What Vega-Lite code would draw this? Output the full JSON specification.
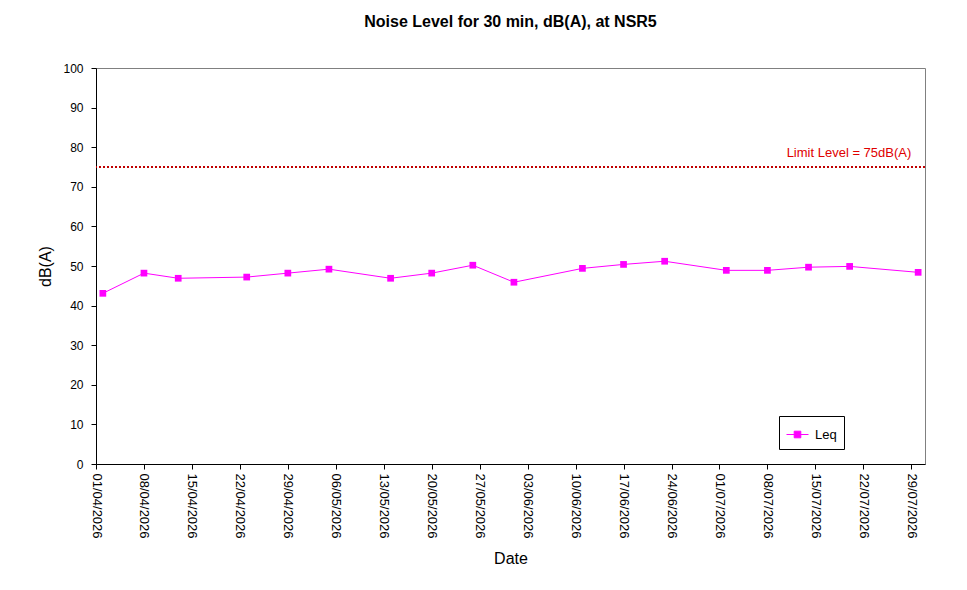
{
  "$schema": "https://vega.github.io/schema/vega-lite/v6.json",
  "width": 829,
  "height": 396,
  "autosize": {"type": "none"},
  "padding": {"left": 96, "top": 68, "right": 42, "bottom": 126},
  "background": "white",
  "config": {
    "font": "Liberation Sans",
    "view": {"stroke": "#808080", "strokeWidth": 1},
    "axisY": {"tickCount": 10, "values": [0, 10, 20, 30, 40, 50, 60, 70, 80, 90, 100]}
  },
  "title": {
    "text": "Noise Level for 30 min,  dB(A), at NSR5",
    "fontSize": 16,
    "fontWeight": "bold",
    "font": "Liberation Sans",
    "color": "black",
    "anchor": "middle",
    "offset": 32
  },
  "datasets": {
    "leq": [
      {"date": "2026-04-02", "level": 43.1, "series": "Leq"},
      {"date": "2026-04-08", "level": 48.2, "series": "Leq"},
      {"date": "2026-04-13", "level": 46.9, "series": "Leq"},
      {"date": "2026-04-23", "level": 47.2, "series": "Leq"},
      {"date": "2026-04-29", "level": 48.2, "series": "Leq"},
      {"date": "2026-05-05", "level": 49.2, "series": "Leq"},
      {"date": "2026-05-14", "level": 46.9, "series": "Leq"},
      {"date": "2026-05-20", "level": 48.2, "series": "Leq"},
      {"date": "2026-05-26", "level": 50.2, "series": "Leq"},
      {"date": "2026-06-01", "level": 45.9, "series": "Leq"},
      {"date": "2026-06-11", "level": 49.4, "series": "Leq"},
      {"date": "2026-06-17", "level": 50.4, "series": "Leq"},
      {"date": "2026-06-23", "level": 51.2, "series": "Leq"},
      {"date": "2026-07-02", "level": 48.9, "series": "Leq"},
      {"date": "2026-07-08", "level": 48.9, "series": "Leq"},
      {"date": "2026-07-14", "level": 49.7, "series": "Leq"},
      {"date": "2026-07-20", "level": 49.9, "series": "Leq"},
      {"date": "2026-07-30", "level": 48.4, "series": "Leq"}
    ],
    "limit": [
      {"level": 75, "date": "2026-07-29", "label": "Limit Level  = 75dB(A)"}
    ]
  },
  "encoding": {
    "y": {
      "field": "level",
      "type": "quantitative",
      "scale": {"domain": [0, 100], "nice": false},
      "axis": {
        "title": "dB(A)",
        "titleFontSize": 16,
        "titleFontWeight": "normal",
        "titleColor": "black",
        "titlePadding": 9,
        "tickCount": 10,
        "labelOverlap": false,
        "labelPadding": 8,
        "labelFontSize": 12,
        "labelColor": "black",
        "grid": false,
        "domainColor": "black",
        "tickColor": "black",
        "tickSize": 5
      }
    }
  },
  "layer": [
    {
      "data": {"name": "limit"},
      "mark": {"type": "rule", "color": "#C00000", "strokeWidth": 2, "strokeDash": [2, 2]},
      "encoding": {}
    },
    {
      "data": {"name": "limit"},
      "mark": {"type": "text", "color": "#E00000", "fontSize": 13, "align": "right", "baseline": "middle", "dy": -14, "font": "Liberation Sans"},
      "encoding": {
        "x": {"field": "date", "type": "temporal"},
        "text": {"field": "label"}
      }
    },
    {
      "data": {"name": "leq"},
      "mark": {"type": "line", "strokeWidth": 1, "point": {"shape": "square", "size": 45, "filled": true, "opacity": 1}},
      "encoding": {
        "x": {
          "field": "date",
          "type": "temporal",
          "scale": {
            "type": "utc",
            "domain": [
              {"year": 2026, "month": 4, "date": 1, "utc": true},
              {"year": 2026, "month": 7, "date": 31, "utc": true}
            ]
          },
          "axis": {
            "title": "Date",
            "titleFontSize": 16,
            "titleFontWeight": "normal",
            "titleColor": "black",
            "titlePadding": 12,
            "format": "%d/%m/%Y",
            "labelAngle": 90,
            "labelAlign": "left",
            "labelBaseline": "middle",
            "labelFontSize": 13,
            "labelColor": "black",
            "labelPadding": 4,
            "labelOverlap": false,
            "labelFlush": false,
            "grid": false,
            "domainColor": "black",
            "tickColor": "black",
            "tickSize": 5,
            "values": [
              {"year": 2026, "month": 4, "date": 1, "utc": true},
              {"year": 2026, "month": 4, "date": 8, "utc": true},
              {"year": 2026, "month": 4, "date": 15, "utc": true},
              {"year": 2026, "month": 4, "date": 22, "utc": true},
              {"year": 2026, "month": 4, "date": 29, "utc": true},
              {"year": 2026, "month": 5, "date": 6, "utc": true},
              {"year": 2026, "month": 5, "date": 13, "utc": true},
              {"year": 2026, "month": 5, "date": 20, "utc": true},
              {"year": 2026, "month": 5, "date": 27, "utc": true},
              {"year": 2026, "month": 6, "date": 3, "utc": true},
              {"year": 2026, "month": 6, "date": 10, "utc": true},
              {"year": 2026, "month": 6, "date": 17, "utc": true},
              {"year": 2026, "month": 6, "date": 24, "utc": true},
              {"year": 2026, "month": 7, "date": 1, "utc": true},
              {"year": 2026, "month": 7, "date": 8, "utc": true},
              {"year": 2026, "month": 7, "date": 15, "utc": true},
              {"year": 2026, "month": 7, "date": 22, "utc": true},
              {"year": 2026, "month": 7, "date": 29, "utc": true}
            ]
          }
        },
        "color": {
          "field": "series",
          "type": "nominal",
          "scale": {"range": ["#FF00FF"]},
          "legend": {
            "title": null,
            "orient": "none",
            "legendX": 683,
            "legendY": 348,
            "strokeColor": "black",
            "fillColor": "white",
            "padding": 7,
            "labelFontSize": 13,
            "labelColor": "black",
            "labelOffset": 6,
            "symbolType": "M-1,0H1M-0.3,-0.3H0.3V0.3H-0.3Z",
            "symbolSize": 484,
            "symbolStrokeWidth": 1,
            "symbolFillColor": "#FF00FF",
            "symbolStrokeColor": "#FF00FF"
          }
        }
      }
    }
  ]
}
